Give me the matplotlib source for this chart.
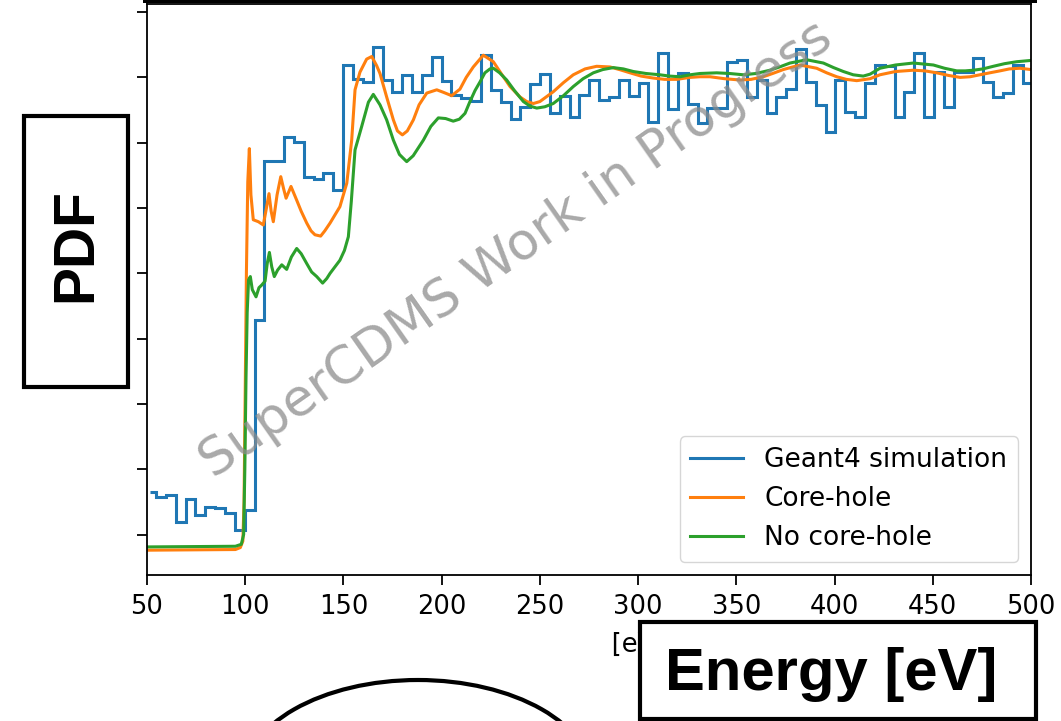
import numpy as np
import matplotlib
matplotlib.use("Agg")
import matplotlib.pyplot as plt
from matplotlib.patches import Rectangle, Ellipse

# Geant4 histogram (arbitrary PDF units, one value per bin)
hist_first_edge = 51.5
hist_edge0 = 54.6
hist_width = 5.0125
hist_vals = [0.655, 0.58, 0.605, 0.196, 0.54, 0.30, 0.416, 0.40, 0.325, 0.07,
             0.38, 3.28, 5.72, 5.72, 6.09, 6.01, 5.48, 5.45, 5.54, 5.28,
             7.19, 6.97, 6.93, 7.46, 6.96, 6.77, 7.04, 6.77, 7.04, 7.32,
             6.95, 6.73, 6.68, 6.64, 7.34, 6.80, 6.63, 6.36, 6.54, 6.90,
             7.05, 6.45, 6.72, 6.39, 6.73, 6.96, 6.65, 6.70, 6.96, 6.72,
             6.91, 6.32, 7.37, 6.51, 7.07, 6.60, 6.30, 6.53, 6.53, 7.23,
             7.27, 6.70, 6.96, 6.45, 6.70, 6.83, 7.43, 6.93, 6.58, 6.17,
             6.96, 6.47, 6.39, 6.91, 7.19, 7.17, 6.39, 6.77, 7.38, 6.39,
             7.09, 6.54, 7.09, 7.09, 7.29, 6.93, 6.70, 6.76, 7.19, 6.92]

# Core-hole curve
core_e = [50, 95, 97.5, 98.8, 99.4, 100.0, 100.6, 101.3, 102.1, 102.9, 104.1, 106.7, 109.2,
          110.8, 112.1, 113.2, 114.3, 116.2, 118.1, 119.5, 120.8, 123.3, 126.2, 128.5, 131.3,
          133.5, 135.5, 138.4, 140.5, 143.2, 148.2, 151.7, 154.2, 155.9, 158.4, 161.8, 164.4,
          166.9, 168.6, 172.0, 175.4, 177.5, 180.0, 182.5, 185.6, 188.5, 192.4, 197.5, 201,
          205.1, 209.3, 212.5, 216.1, 221.2, 226.3, 230.5, 234.8, 239.9, 243.3, 246.7, 250,
          256.8, 262, 267.0, 273, 278.9, 285.7, 290.5, 295.9, 301.5, 307.7, 313.5, 319.6,
          326.4, 331.5, 336.6, 344, 351.9, 357.5, 363.7, 368.5, 373.9, 382.4, 390.9, 396,
          401.1, 406, 411.3, 418.1, 423.1, 431, 440.1, 446, 452, 458, 463.9, 469, 474.0,
          479, 484.2, 489, 494.4, 500]
core_v = [-0.24, -0.23, -0.2, -0.1, 0.5, 2.2, 4.0, 5.4, 5.91, 5.2, 4.82, 4.79, 4.74,
          5.0, 5.22, 4.95, 4.79, 5.2, 5.48, 5.3, 5.15, 5.33, 5.12, 4.95, 4.77,
          4.65, 4.59, 4.57, 4.65, 4.77, 5.02, 5.38, 6.04, 6.81, 7.08, 7.28, 7.32,
          7.18, 7.06, 6.70, 6.35, 6.18, 6.12, 6.18, 6.35, 6.58, 6.76, 6.81, 6.77,
          6.72, 6.82, 7.0, 7.16, 7.34, 7.24, 7.05, 6.86, 6.70, 6.63, 6.60, 6.63,
          6.78, 6.92, 7.04, 7.13, 7.17, 7.16, 7.12, 7.07, 7.02, 6.99, 6.97, 6.97,
          7.0, 7.01, 7.01, 6.98, 6.96, 6.97, 7.01, 7.06, 7.12, 7.19, 7.14, 7.07,
          7.01, 6.97, 6.95, 6.98, 7.04, 7.09, 7.11, 7.10, 7.07, 7.03, 7.00, 7.01, 7.04,
          7.07, 7.10, 7.13, 7.14, 7.12]

# No core-hole curve
nocore_e = [50, 95, 98, 99.2, 99.8, 100.4, 101.0, 101.7, 102.6, 103.6, 105.5, 107, 108.4,
            110.1, 111.2, 112.3, 113.5, 114.8, 116.5, 118.6, 121.1, 123.5, 126.2, 128.5,
            131.3, 133.8, 136.4, 139.4, 141.5, 143.2, 148.2, 150.5, 152.5, 154.0, 155.9,
            159.3, 162.7, 165.2, 168.6, 172.0, 175.4, 178.5, 182.2, 185.5, 190.7, 194.5,
            198.3, 202, 205.9, 209, 211.9, 214.4, 217, 219.5, 222, 224.6, 226.3, 229.5,
            233.1, 237, 241.6, 245, 248.4, 252.5, 256.8, 262, 267, 272, 277.2, 282, 287.4,
            292.5, 297.6, 304, 311.1, 316, 321.3, 326.4, 331.5, 340, 346.5, 353.6, 360,
            367.1, 372, 377.3, 385.8, 394.3, 399.5, 404.5, 409.5, 414.6, 418.1, 423.1, 431,
            440.1, 450.3, 456, 462.2, 466.5, 470.7, 475.5, 480.8, 486.5, 492.7, 500]
nocore_v = [-0.19, -0.18, -0.15, 0.0, 1.0, 2.4, 3.4, 3.9, 3.95, 3.75, 3.64, 3.78, 3.82,
            3.88, 4.15, 4.32, 4.1, 3.95, 4.05, 4.13, 4.06, 4.25, 4.38, 4.3,
            4.15, 4.02, 3.95, 3.85, 3.92, 4.00, 4.20, 4.35, 4.56, 5.1, 5.89,
            6.25, 6.62, 6.74, 6.58, 6.35, 6.04, 5.82, 5.71, 5.80, 6.04, 6.25,
            6.38, 6.37, 6.33, 6.36, 6.45, 6.63, 6.80, 6.93, 7.07, 7.13, 7.14, 7.07,
            6.96, 6.80, 6.63, 6.56, 6.53, 6.55, 6.60, 6.72, 6.86, 6.98, 7.07, 7.12, 7.15,
            7.13, 7.09, 7.06, 7.04, 7.02, 7.01, 7.04, 7.06, 7.07, 7.06, 7.04, 7.06,
            7.11, 7.16, 7.22, 7.27, 7.22, 7.15, 7.09, 7.04, 7.02, 7.05, 7.14, 7.19,
            7.22, 7.19, 7.14, 7.10, 7.10, 7.11, 7.13, 7.17, 7.21, 7.24, 7.26]

xticks = [50, 100, 150, 200, 250, 300, 350, 400, 450, 500]

W, H = 1061, 721
fig = plt.figure(figsize=(W / 100, H / 100), dpi=100)

def fx(px):
    return px / W

def fy(py):
    return 1 - py / H

ax = fig.add_axes([fx(147), fy(575), fx(1031) - fx(147), fy(4) - fy(575)])

n = len(hist_vals)
edges = np.concatenate([[hist_first_edge], hist_edge0 + hist_width * np.arange(n)])
ax.stairs(hist_vals, edges, baseline=None, color='C0', lw=2.2, label='Geant4 simulation')
ax.plot(core_e, core_v, color='C1', lw=2.2, label='Core-hole')
ax.plot(nocore_e, nocore_v, color='C2', lw=2.2, label='No core-hole')

ax.set_xlim(50, 500)
ax.set_ylim(-0.62, 8.124)
ax.set_xticks(xticks)
ax.set_yticks(range(9))
ax.set_yticklabels([])
ax.tick_params(labelsize=18.5, length=7, width=1.3, pad=7)
for s in ax.spines.values():
    s.set_linewidth(1.3)
ax.set_xlabel('Energy [eV]', fontsize=18.5, labelpad=8)
ax.legend(loc='lower right', fontsize=19)

# watermark
ax.text(0.418, 0.57, 'SuperCDMS Work in Progress', transform=ax.transAxes,
        fontsize=37.5, color='0.55', alpha=0.75, rotation=35,
        ha='center', va='center')

# overlay shapes from the slide
# white patch hiding the start of the original x label
fig.add_artist(Rectangle((fx(470), fy(668)), fx(611) - fx(470), fy(622) - fy(668),
                         facecolor='white', edgecolor='none'))

fig.add_artist(Rectangle((fx(24), fy(387)), fx(128) - fx(24), fy(116) - fy(387),
                         facecolor='white', edgecolor='black', lw=3))
fig.text(fx(76), fy(245), 'PDF', rotation=90, ha='center', va='center',
         fontsize=41, fontweight='bold', family='Liberation Sans')

fig.add_artist(Rectangle((fx(640), fy(719)), fx(1036) - fx(640), fy(622) - fy(719),
                         facecolor='white', edgecolor='black', lw=3))
fig.text(fx(831), fy(690), 'Energy [eV]', ha='center', va='baseline',
         fontsize=43, fontweight='bold', family='Liberation Sans')

fig.add_artist(Rectangle((fx(143), fy(3)), fx(1037) - fx(143), fy(-20) - fy(3),
                         facecolor='black', edgecolor='none'))
fig.add_artist(Ellipse((fx(418), fy(780)), fx(350), 200 / H,
                       facecolor='none', edgecolor='black', lw=3))

fig.savefig('out.png', dpi=100)
